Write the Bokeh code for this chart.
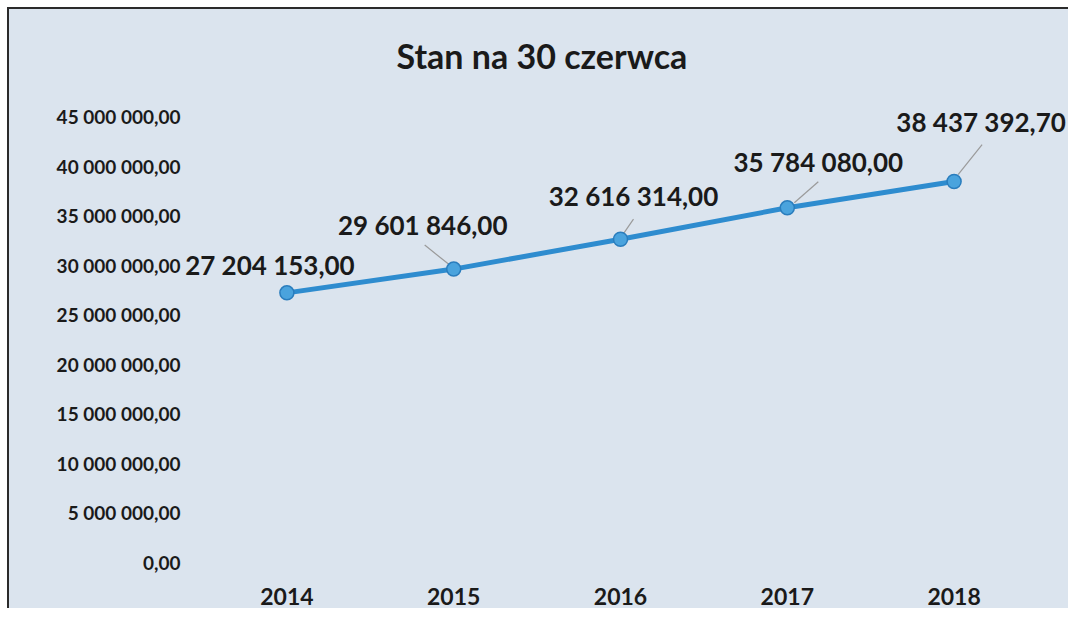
from bokeh.plotting import figure
from bokeh.models import ColumnDataSource, Range1d, FixedTicker, LabelSet
from bokeh.core.properties import value
from bokeh.embed import file_html
from bokeh.resources import INLINE

# ---- data ----
title_text = "Stan na 30 czerwca"
years = ["2014", "2015", "2016", "2017", "2018"]
values = [27204153.00, 29601846.00, 32616314.00, 35784080.00, 38437392.70]
y_ticks = [0, 5000000, 10000000, 15000000, 20000000, 25000000,
           30000000, 35000000, 40000000, 45000000]


def fmt(v):
    s = f"{v:,.2f}"
    return s.replace(",", " ").replace(".", ",")


xs = [int(y) for y in years]

# ---- styling / layout ----
SHIFT = 7
EXTRA_L = 21
W, H = 1061, 601
ML, MR, MT, MB = 173, 4, 80, 48
CAT_PX = 166.8
X_START = xs[0] - 0.5 - EXTRA_L / CAT_PX
X_END = X_START + (W - ML - MR) / CAT_PX
Y_MAX = 47.72e6
UNIT_PER_PX = Y_MAX / (H - MT - MB)

BG = "#dbe4ee"
TXT = "#1a1a1a"
FONT = "Lato"

# label offsets in pixels (dx right, dy up)
lab_dx = [-17, -31, 13, 31, 27]
lab_dy = [28, 44, 43, 46, 60]
# leader lines (pixel offsets from point): start and end
lead_idx = [1, 2, 3, 4]
lead_sx = [-4, 2, 7, 4]
lead_sy = [4, 4, 5, 7]
lead_ex = [-29, 13, 31, 28]
lead_ey = [24, 20, 26, 37]

p = figure(width=W, height=H,
           x_range=Range1d(X_START, X_END), y_range=Range1d(0, Y_MAX),
           output_backend="svg", toolbar_location=None,
           min_border_left=ML, min_border_right=MR,
           min_border_top=MT, min_border_bottom=MB)
p.styles = {"position": "relative", "left": f"{SHIFT}px", "top": f"{SHIFT}px",
            "background-color": BG,
            "border-top": "2px solid #2b2b2b",
            "border-left": "2px solid #2b2b2b"}

p.background_fill_color = BG
p.background_fill_alpha = 0
p.border_fill_color = BG
p.border_fill_alpha = 0
p.outline_line_color = None
p.grid.visible = False

p.title.text = title_text
p.title.align = "left"
p.title.offset = 214
p.title.text_font = FONT
p.title.text_font_size = "34px"
p.title.text_font_style = "bold"
p.title.text_color = TXT
p.title.standoff = 27

for ax in (p.xaxis[0], p.yaxis[0]):
    ax.axis_line_color = None
    ax.major_tick_line_color = None
    ax.minor_tick_line_color = None
    ax.major_tick_out = 0
    ax.major_tick_in = 0
    ax.major_label_text_font = FONT
    ax.major_label_text_font_style = "bold"
    ax.major_label_text_color = TXT

p.xaxis.ticker = FixedTicker(ticks=xs)
p.xaxis.major_label_overrides = {x: y for x, y in zip(xs, years)}
p.xaxis.major_label_text_font_size = "23px"
p.xaxis.major_label_standoff = 25
p.yaxis.major_label_text_font_size = "19px"
p.yaxis.major_label_standoff = 2
p.yaxis.ticker = FixedTicker(ticks=y_ticks)
p.yaxis.major_label_overrides = {t: fmt(t) for t in y_ticks}

# leader lines
lead = ColumnDataSource(dict(
    x0=[xs[i] + dx / CAT_PX for i, dx in zip(lead_idx, lead_sx)],
    y0=[values[i] + dy * UNIT_PER_PX for i, dy in zip(lead_idx, lead_sy)],
    x1=[xs[i] + dx / CAT_PX for i, dx in zip(lead_idx, lead_ex)],
    y1=[values[i] + dy * UNIT_PER_PX for i, dy in zip(lead_idx, lead_ey)],
))
p.segment(x0="x0", y0="y0", x1="x1", y1="y1", source=lead,
          line_color="#9a9a9a", line_width=1.2)

src = ColumnDataSource(dict(x=xs, value=values,
                            label=[fmt(v) for v in values],
                            dx=lab_dx, dy=lab_dy))
p.line(x="x", y="value", source=src, line_width=5, line_color="#2e8ccf")
p.scatter(x="x", y="value", source=src, size=14,
          fill_color="#4aa3dd", line_color="#2a7dbd", line_width=1.5)

labels = LabelSet(x="x", y="value", text="label", source=src,
                  x_offset="dx", y_offset="dy",
                  text_align="center", text_baseline="middle",
                  text_font=value(FONT), text_font_style="bold",
                  text_font_size="26px", text_color=TXT)
p.add_layout(labels)

open("out.html", "w").write(file_html(p, INLINE))
